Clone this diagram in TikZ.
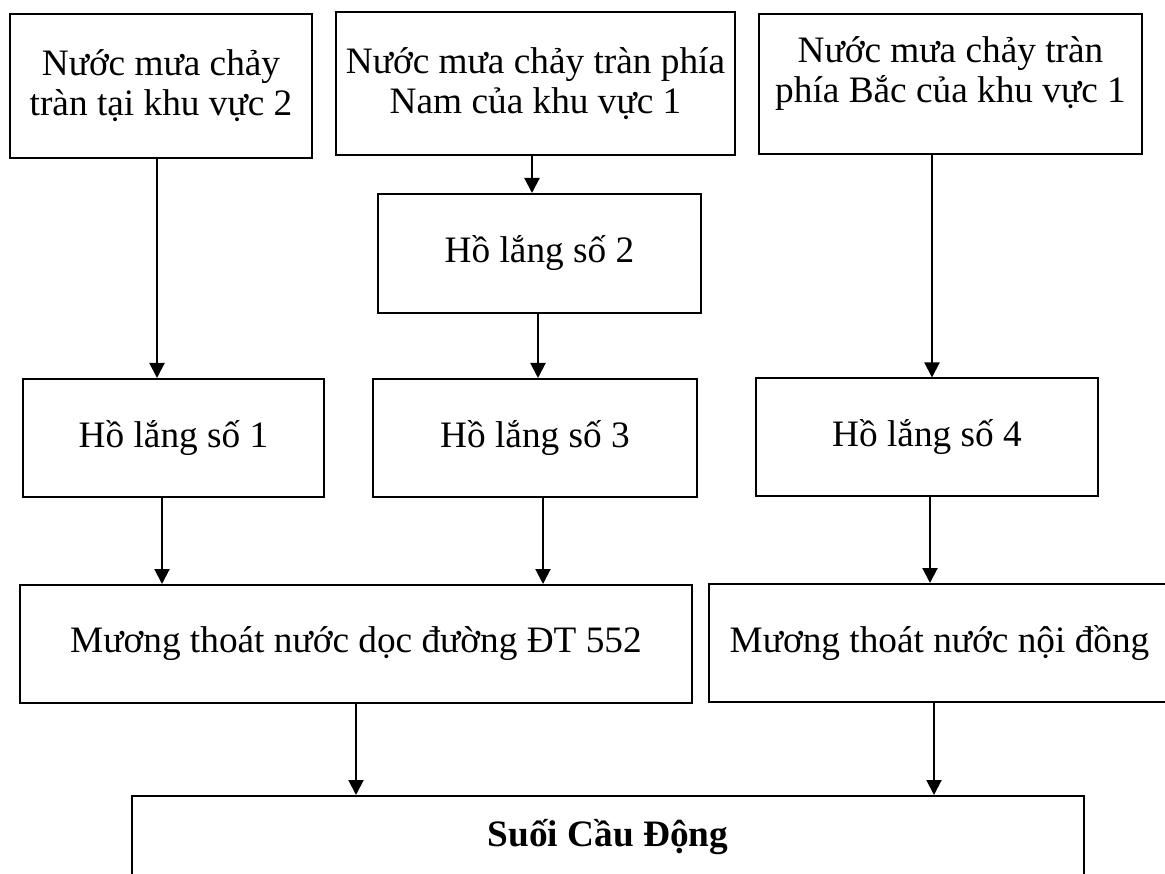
\documentclass[tikz,border=0pt]{standalone}
\usepackage{fontspec}
\setmainfont{Liberation Serif}
\usetikzlibrary{arrows.meta}
\tikzset{
  box/.style={draw=black, line width=2pt, rectangle, inner sep=0pt, align=center,
    font=\fontsize{37.3}{40}\selectfont},
  arr/.style={draw=black, line width=2pt, -{Triangle[length=15pt,width=15pt]}}
}
\begin{document}
\begin{tikzpicture}[x=1pt,y=-1pt]
\useasboundingbox (0,0) rectangle (1165,874);
% top row
\node[box, minimum width=302pt, minimum height=144pt] (b1) at (161,86) {Nước mưa chảy\\tràn tại khu vực 2};
\node[box, minimum width=399pt, minimum height=143pt] (b2) at (535.5,83.5) {Nước mưa chảy tràn phía\\Nam của khu vực 1};
\node[box, minimum width=383pt, minimum height=140pt, text depth=28pt] (b3) at (950.5,84) {Nước mưa chảy tràn\\phía Bắc của khu vực 1};
% settling ponds
\node[box, minimum width=323pt, minimum height=119pt] (h2) at (539.5,253.5) {Hồ lắng số 2};
\node[box, minimum width=301pt, minimum height=118pt] (h1) at (173.5,438) {Hồ lắng số 1};
\node[box, minimum width=324pt, minimum height=118pt] (h3) at (535,438) {Hồ lắng số 3};
\node[box, minimum width=342pt, minimum height=117pt] (h4) at (927,437) {Hồ lắng số 4};
% ditches
\node[box, minimum width=672pt, minimum height=118pt] (m1) at (356,644) {Mương thoát nước dọc đường ĐT 552};
\node[box, minimum width=461pt, minimum height=118pt] (m2) at (939.5,643) {Mương thoát nước nội đồng};
% stream
\node[box, minimum width=952pt, minimum height=82pt, font=\fontsize{37.3}{40}\selectfont\bfseries] (s) at (608,837) {Suối Cầu Động};
% connectors
\draw[arr] (157,0 |- b1.south) -- (157,0 |- h1.north);
\draw[arr] (532,0 |- b2.south) -- (532,0 |- h2.north);
\draw[arr] (538,0 |- h2.south) -- (538,0 |- h3.north);
\draw[arr] (932,0 |- b3.south) -- (932,0 |- h4.north);
\draw[arr] (162,0 |- h1.south) -- (162,0 |- m1.north);
\draw[arr] (543,0 |- h3.south) -- (543,0 |- m1.north);
\draw[arr] (930,0 |- h4.south) -- (930,0 |- m2.north);
\draw[arr] (356,0 |- m1.south) -- (356,0 |- s.north);
\draw[arr] (934,0 |- m2.south) -- (934,0 |- s.north);
\end{tikzpicture}
\end{document}
